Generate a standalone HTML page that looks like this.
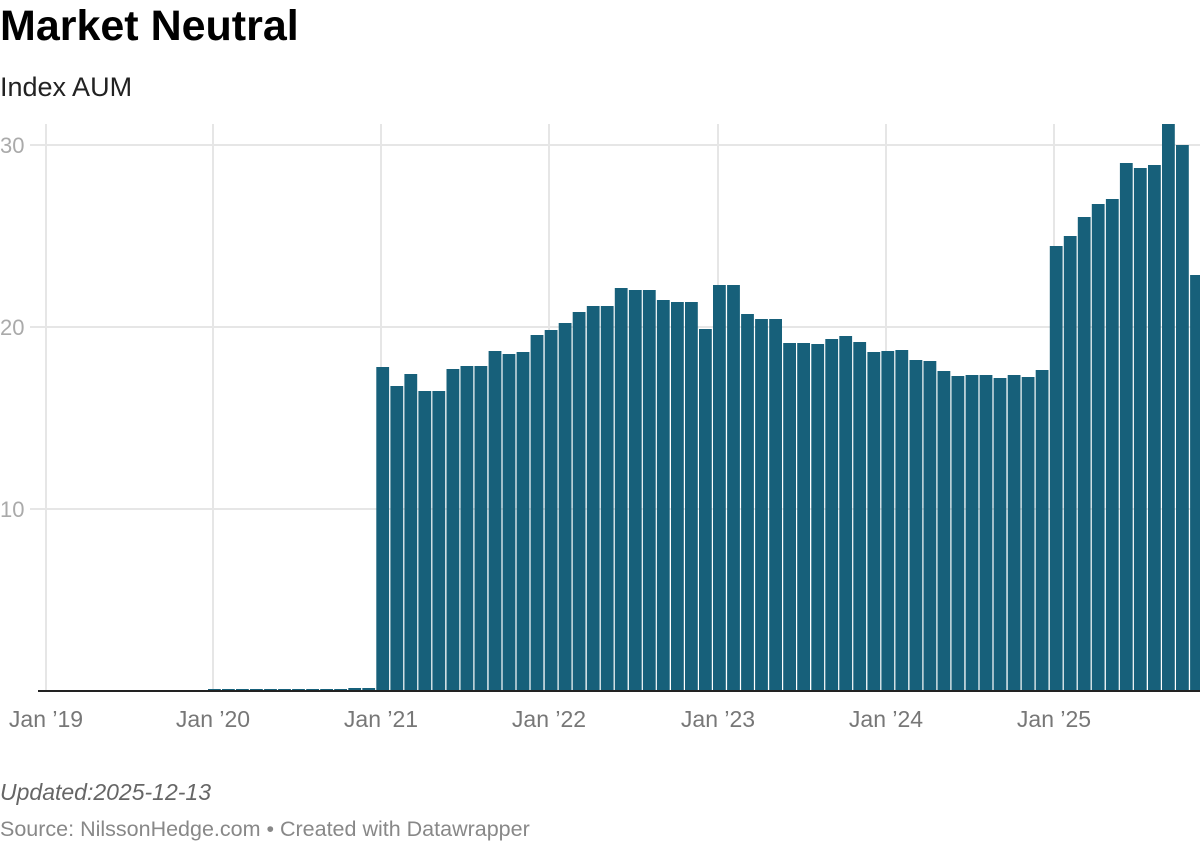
<!DOCTYPE html>
<html><head><meta charset="utf-8"><style>
body{margin:0;background:#fff;width:1200px;height:842px;overflow:hidden;font-family:"Liberation Sans",sans-serif}
</style></head><body>
<svg id="c" width="1200" height="842" xmlns="http://www.w3.org/2000/svg" font-family="Liberation Sans, sans-serif">
<text x="0" y="40" font-size="43" font-weight="bold" fill="#000">Market Neutral</text>
<text x="0" y="96" font-size="27" fill="#222">Index AUM</text>
<g stroke="#e6e6e6" stroke-width="2">
<line x1="0" y1="145" x2="1200" y2="145"/><line x1="0" y1="327" x2="1200" y2="327"/><line x1="0" y1="509" x2="1200" y2="509"/>
<line x1="46" y1="124" x2="46" y2="691"/><line x1="213" y1="124" x2="213" y2="691"/><line x1="381" y1="124" x2="381" y2="691"/><line x1="549" y1="124" x2="549" y2="691"/><line x1="718" y1="124" x2="718" y2="691"/><line x1="886" y1="124" x2="886" y2="691"/><line x1="1054" y1="124" x2="1054" y2="691"/>
</g>
<g fill="#fff"><rect x="0" y="132" width="30" height="24"/><rect x="0" y="314" width="30" height="24"/><rect x="0" y="496" width="30" height="24"/></g>
<g font-size="22" fill="#aaa"><text x="0" y="153">30</text><text x="0" y="335">20</text><text x="0" y="517">10</text></g>
<g id="bars" fill="#17607a"></g>
<line x1="38" y1="691" x2="1200" y2="691" stroke="#222" stroke-width="2"/>
<g font-size="23" fill="#777" text-anchor="middle">
<text x="46" y="727">Jan ’19</text><text x="213" y="727">Jan ’20</text><text x="381" y="727">Jan ’21</text><text x="549" y="727">Jan ’22</text><text x="718" y="727">Jan ’23</text><text x="886" y="727">Jan ’24</text><text x="1054" y="727">Jan ’25</text>
</g>
<text x="0" y="800" font-size="23" font-style="italic" fill="#666">Updated:2025-12-13</text>
<text x="0" y="836" font-size="21.5" fill="#888">Source: NilssonHedge.com • Created with Datawrapper</text>
</svg>
<script>
var tops={};
for(var i=12;i<22;i++)tops[i]=689;
tops[22]=688;tops[23]=688;
var t=[367,386,374,391,391,369,366,366,351,354,352,335,330,323,312,306,306,288,290,290,300,302,302,329,285,285,314,319,319,343,343,344,339,336,342,352,351,350,360,361,371,376,375,375,378,375,377,370,246,236,217,204,199,163,168,165,124,145,275];
for(var j=0;j<t.length;j++)tops[24+j]=t[j];
var g=document.getElementById('bars'),s='';
for(var k in tops){var cx=46+k*14.03;var y=tops[k];s+='<rect x="'+(cx-6.4).toFixed(1)+'" y="'+y+'" width="12.8" height="'+(691-y)+'"/>';}
g.innerHTML=s;
</script>
</body></html>
